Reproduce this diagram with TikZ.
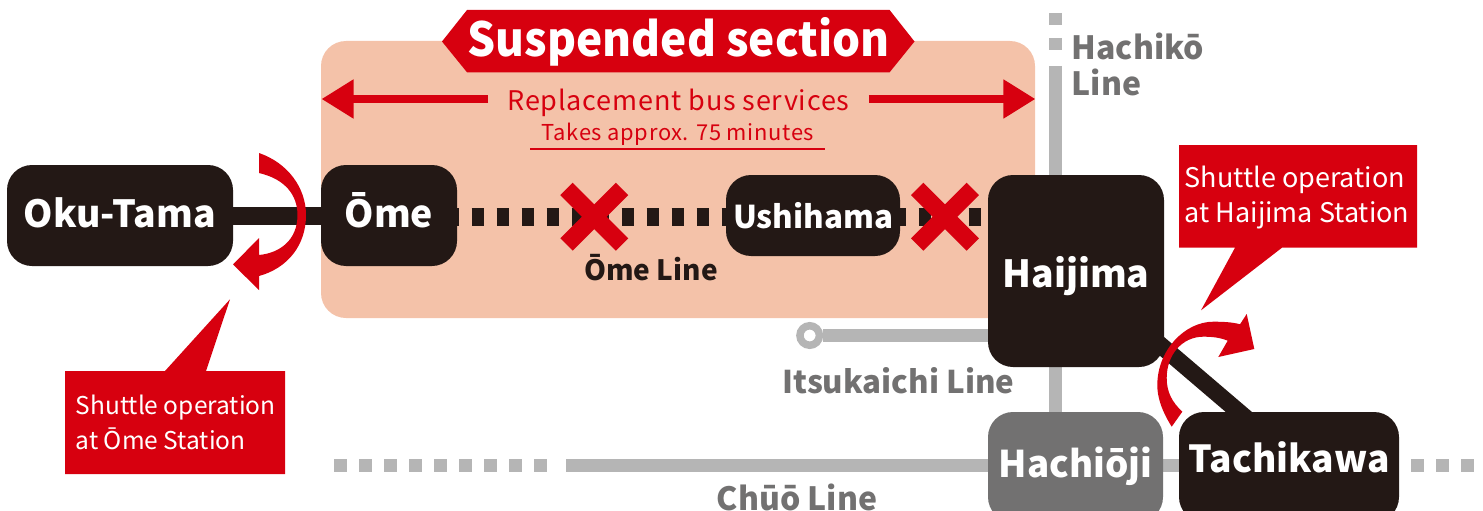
\documentclass[tikz,border=0pt]{standalone}
\usepackage{fontspec}
\setmainfont{Noto Sans CJK JP}
\usetikzlibrary{arrows.meta,backgrounds}
\definecolor{stationblack}{HTML}{231815}
\definecolor{stationgray}{HTML}{727171}
\definecolor{linegray}{HTML}{B5B5B5}
\definecolor{alertred}{HTML}{D7000F}
\definecolor{panelpink}{HTML}{F4C2A9}
\tikzset{
  station/.style={fill=stationblack, text=white, rounded corners=25pt, inner sep=0pt, text depth=0pt, font=\fontsize{37.4}{37.4}\selectfont\bfseries},
  bubble/.style={text=white, inner sep=0pt, anchor=west, font=\fontsize{24.5}{35}\selectfont, align=left},
  linelabel/.style={text=stationgray, inner sep=0pt, font=\fontsize{32}{36}\selectfont\bfseries, align=left},
  busline/.style={linegray, line width=13pt},
  blackline/.style={stationblack, line width=18pt},
  grayticks/.style={busline, dash pattern=on 12.5pt off 12.5pt},
  blackticks/.style={blackline, dash pattern=on 12.4pt off 12.6pt},
  crossbar/.style={alertred, line width=17.5pt},
  busarrow/.style={alertred, line width=8pt, -{Triangle[length=32pt,width=37pt]}},
  redtext/.style={text=alertred, inner sep=0pt}
}
\begin{document}
\begin{tikzpicture}[x=1pt, y=-1pt]
  \useasboundingbox (0,0) rectangle (1483,511);
  \clip (0,0) rectangle (1483,511);

  % stations
  \node[station, minimum width=226pt, minimum height=101pt, text height=24pt] (okutama) at (120,215.5) {Oku-Tama};
  \node[station, minimum width=136pt, minimum height=101pt, text height=24pt] (ome) at (389,215.5) {Ōme};
  \node[station, minimum width=174pt, minimum height=81pt, text height=25pt, font=\fontsize{31.4}{31.4}\selectfont\bfseries] (ushihama) at (813,215.5) {Ushihama};
  \node[station, minimum width=176pt, minimum height=192pt, text height=32pt] (haijima) at (1076,271) {Haijima};
  \node[station, fill=stationgray, minimum width=175pt, minimum height=110pt, text height=20pt, font=\fontsize{36.8}{36.8}\selectfont\bfseries] (hachioji) at (1075.5,467) {Hachiōji};
  \node[station, minimum width=220pt, minimum height=110pt, text height=11pt, font=\fontsize{37.2}{37.2}\selectfont\bfseries] (tachikawa) at (1289,467) {Tachikawa};
  \node[circle, draw=linegray, line width=7.5pt, fill=white, minimum size=19.5pt, inner sep=0pt] (itsukaichi) at (809.7,335.5) {};

  % free ends of the lines
  \coordinate (hachikotop) at (1055.3,13);
  \coordinate (hachikoend) at (1055.3,56);
  \coordinate (hachikosolid) at (1055.3,66);
  \coordinate (chuoleft) at (334,465.5);
  \coordinate (chuoleftend) at (547,465.5);
  \coordinate (chuosolid) at (566,465.5);
  \coordinate (chuoright) at (1411,465.5);
  \coordinate (chuorightend) at (1474,465.5);

  \begin{scope}[on background layer]
    \fill[panelpink, rounded corners=25pt] (321,41) rectangle (1035,318);
    \draw[grayticks] (hachikotop) -- (hachikoend);
    \draw[busline] (hachikosolid) -- (hachioji.north -| hachikosolid);
    \draw[busline] (itsukaichi) -- (haijima.west |- itsukaichi);
    \draw[grayticks] (chuoleft) -- (chuoleftend);
    \draw[busline] (chuosolid) -- (tachikawa.west |- chuosolid);
    \draw[grayticks] (chuoright) -- (chuorightend);
    \draw[blackline] (okutama) -- (ome);
    \draw[blackticks, dash phase=10.7pt] (ome.east |- 0,216.7) -- (ushihama.west |- 0,216.7);
    \draw[blackticks, dash phase=6.6pt] (ushihama.east |- 0,216.7) -- (haijima.west |- 0,216.7);
    \draw[stationblack, line width=17pt] ([shift={(-20,-36)}]haijima.south east) -- ([shift={(-41,8)}]tachikawa.north);
  \end{scope}

  % crosses
  \coordinate (crossa) at (594.3,216.7);
  \coordinate (crossb) at (945,216.7);
  \foreach \c in {crossa,crossb} {
    \draw[crossbar] ([shift={(-27.8,-27.8)}]\c) -- ([shift={(27.8,27.8)}]\c);
    \draw[crossbar] ([shift={(27.8,-27.8)}]\c) -- ([shift={(-27.8,27.8)}]\c);
  }

  % banner
  \fill[alertred] (442,41.5) -- (467,10) -- (889.6,10) -- (914.5,41.5) -- (889.6,72.3) -- (467,72.3) -- cycle;
  \node[text=white, inner sep=0pt, xscale=0.94, transform shape, font=\fontsize{47}{47}\selectfont\bfseries] (suspended) at (678.5,42) {Suspended section};

  % bus services
  \node[redtext, font=\fontsize{27}{27}\selectfont\addfontfeatures{LetterSpace=3}] (bustext) at (678.5,103) {Replacement bus services};
  \node[redtext, font=\fontsize{21.9}{21.9}\selectfont\addfontfeatures{LetterSpace=3}] (bustime) at (678,134) {Takes approx. 75 minutes};
  \coordinate (busleft) at (488,99);
  \coordinate (busleftend) at (321.5,99);
  \coordinate (busright) at (868.8,99);
  \coordinate (busrightend) at (1035.4,99);
  \draw[busarrow] (busleft) -- (busleftend);
  \draw[busarrow] (busright) -- (busrightend);
  \coordinate (ulinea) at (530,148.5);
  \coordinate (ulineb) at (825,148.5);
  \draw[alertred, line width=2pt] (ulinea) -- (ulineb);

  % line names
  \node[text=stationblack, inner sep=0pt, font=\fontsize{28}{28}\selectfont\bfseries] (omeline) at (651,268) {Ōme Line};
  \node[linelabel, anchor=north west] (hachikoline) at (1071.5,33) {Hachikō\\Line};
  \node[linelabel, font=\fontsize{31.3}{36}\selectfont\bfseries] (itsukaichiline) at (898.5,381) {Itsukaichi Line};
  \node[linelabel] (chuoline) at (797,497) {Chūō Line};

  % shuttle arrows
  \fill[alertred] (259,153) .. controls (288,163) and (306,188) .. (306,215) .. controls (306,245) and (288,268) .. (259,276) -- (259,290) -- (233,264.5) -- (259,238) -- (259,255) .. controls (280,253) and (297.5,240) .. (297.5,215) .. controls (297.5,195) and (285,179) .. (259,173) -- cycle;
  \fill[alertred] (1171.7,426.7) .. controls (1160,408) and (1157.3,395) .. (1157.3,385) .. controls (1157.3,350) and (1185,321.7) .. (1213.3,321.7) .. controls (1222,321.7) and (1232,322) .. (1240,324.3) -- (1246.7,314) -- (1254.3,349) -- (1218.3,357) -- (1227.7,340.7) .. controls (1220,337.5) and (1212,336.7) .. (1203.3,336.7) .. controls (1182,336.7) and (1166.7,355) .. (1166.7,378) .. controls (1166.7,392) and (1172,402) .. (1182.3,411.7) -- cycle;

  % speech bubbles
  \fill[alertred] (65,371) -- (165,371) -- (230,299.3) -- (206,371) -- (285,371) -- (285,474) -- (65,474) -- cycle;
  \node[bubble] (omeshuttle) at (75.5,422) {Shuttle operation\\at Ōme Station};
  \fill[alertred] (1179,145) -- (1417,145) -- (1417,247.7) -- (1282,247.7) -- (1201,310.3) -- (1235,247.7) -- (1179,247.7) -- cycle;
  \node[bubble, font=\fontsize{27}{35}\selectfont] (haijimashuttle) at (1184.5,197.5) {Shuttle operation\\at Haijima Station};
\end{tikzpicture}
\end{document}
